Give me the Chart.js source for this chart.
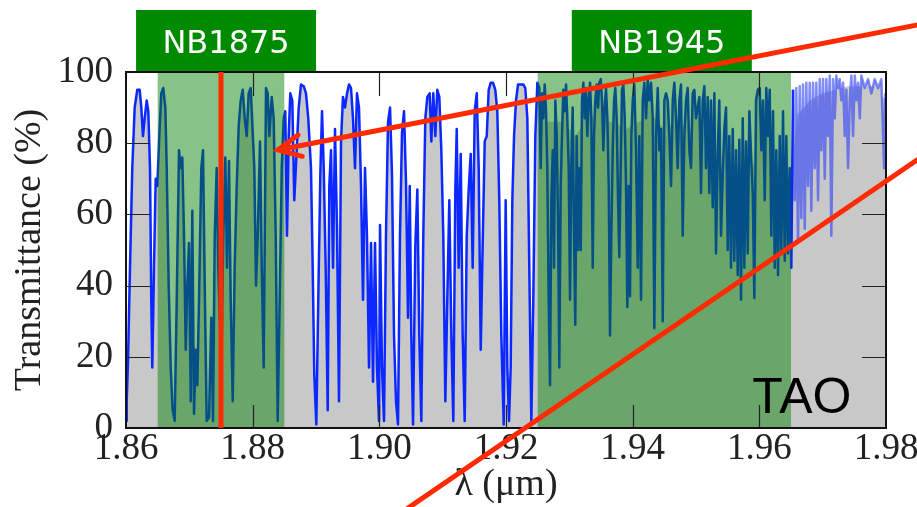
<!DOCTYPE html>
<html>
<head>
<meta charset="utf-8">
<title>TAO transmittance</title>
<script src="https://cdn.jsdelivr.net/npm/chart.js@4.4.1/dist/chart.umd.min.js"></script>
<style>
    html, body { margin: 0; padding: 0; background: #fff; }
    #spectrumChart { display: block; }
</style>
</head>
<body>
<canvas id="spectrumChart" width="917" height="507"></canvas>
<script>
// Atmospheric transmittance at TAO, 1.86 - 1.98 um, with the two narrow-band filters

// wavelength (um)
const wavelengths = [
    1.86000, 1.86011, 1.86032, 1.86063, 1.86099, 1.86137, 1.86178, 1.86216, 1.86242, 1.86268,
    1.86295, 1.86327, 1.86352, 1.86379, 1.86399, 1.86415, 1.86442, 1.86469, 1.86494, 1.86526,
    1.86557, 1.86589, 1.86621, 1.86643, 1.86674, 1.86706, 1.86737, 1.86769, 1.86801, 1.86837,
    1.86864, 1.86889, 1.86916, 1.86943, 1.86968, 1.86995, 1.87022, 1.87047, 1.87074, 1.87101,
    1.87126, 1.87153, 1.87189, 1.87216, 1.87243, 1.87274, 1.87311, 1.87347, 1.87374, 1.87401,
    1.87432, 1.87457, 1.87505, 1.87536, 1.87568, 1.87595, 1.87626, 1.87653, 1.87685, 1.87716,
    1.87748, 1.87780, 1.87811, 1.87843, 1.87874, 1.87906, 1.87937, 1.87969, 1.88026, 1.88053,
    1.88080, 1.88116, 1.88143, 1.88174, 1.88211, 1.88237, 1.88263, 1.88301, 1.88332, 1.88364,
    1.88395, 1.88427, 1.88459, 1.88490, 1.88515, 1.88542, 1.88569, 1.88594, 1.88626, 1.88657,
    1.88695, 1.88727, 1.88763, 1.88806, 1.88842, 1.88878, 1.88921, 1.88948, 1.88973, 1.89005,
    1.89036, 1.89068, 1.89095, 1.89122, 1.89153, 1.89185, 1.89210, 1.89237, 1.89269, 1.89300,
    1.89332, 1.89363, 1.89395, 1.89426, 1.89458, 1.89490, 1.89521, 1.89553, 1.89584, 1.89616,
    1.89647, 1.89679, 1.89711, 1.89742, 1.89774, 1.89805, 1.89837, 1.89869, 1.89900, 1.89932,
    1.89963, 1.89995, 1.90011, 1.90042, 1.90074, 1.90105, 1.90137, 1.90169, 1.90200, 1.90232,
    1.90263, 1.90295, 1.90326, 1.90358, 1.90390, 1.90421, 1.90453, 1.90480, 1.90505, 1.90532,
    1.90568, 1.90600, 1.90631, 1.90663, 1.90694, 1.90726, 1.90758, 1.90795, 1.90821, 1.90852,
    1.90884, 1.90915, 1.90947, 1.90979, 1.91010, 1.91042, 1.91073, 1.91105, 1.91137, 1.91168,
    1.91200, 1.91222, 1.91253, 1.91285, 1.91316, 1.91348, 1.91380, 1.91411, 1.91443, 1.91474,
    1.91506, 1.91538, 1.91569, 1.91601, 1.91632, 1.91664, 1.91696, 1.91727, 1.91759, 1.91795,
    1.91831, 1.91863, 1.91894, 1.91926, 1.91964, 1.91995, 1.92021, 1.92048, 1.92074, 1.92100,
    1.92127, 1.92158, 1.92190, 1.92232, 1.92273, 1.92305, 1.92337, 1.92368, 1.92400, 1.92431,
    1.92463, 1.92495, 1.92526, 1.92548, 1.92569, 1.92589, 1.92611, 1.92632, 1.92652, 1.92674,
    1.92695, 1.92716, 1.92738, 1.92758, 1.92779, 1.92801, 1.92821, 1.92842, 1.92864, 1.92884,
    1.92905, 1.92927, 1.92948, 1.92968, 1.92990, 1.93011, 1.93031, 1.93053, 1.93074, 1.93094,
    1.93116, 1.93137, 1.93158, 1.93180, 1.93200, 1.93221, 1.93243, 1.93263, 1.93284, 1.93306,
    1.93327, 1.93347, 1.93369, 1.93390, 1.93410, 1.93432, 1.93453, 1.93473, 1.93496, 1.93516,
    1.93537, 1.93559, 1.93579, 1.93600, 1.93622, 1.93642, 1.93663, 1.93685, 1.93706, 1.93726,
    1.93748, 1.93769, 1.93789, 1.93811, 1.93832, 1.93853, 1.93875, 1.93895, 1.93916, 1.93938,
    1.93958, 1.93979, 1.94001, 1.94026, 1.94053, 1.94080, 1.94105, 1.94132, 1.94159, 1.94184,
    1.94211, 1.94238, 1.94263, 1.94290, 1.94317, 1.94342, 1.94369, 1.94396, 1.94421, 1.94448,
    1.94475, 1.94500, 1.94527, 1.94554, 1.94579, 1.94606, 1.94633, 1.94658, 1.94685, 1.94711,
    1.94737, 1.94763, 1.94790, 1.94816, 1.94842, 1.94869, 1.94895, 1.94921, 1.94948, 1.94974,
    1.95000, 1.95027, 1.95053, 1.95079, 1.95106, 1.95132, 1.95158, 1.95185, 1.95210, 1.95237,
    1.95264, 1.95290, 1.95316, 1.95343, 1.95368, 1.95395, 1.95422, 1.95447, 1.95474, 1.95501,
    1.95526, 1.95553, 1.95580, 1.95605, 1.95632, 1.95659, 1.95684, 1.95711, 1.95738, 1.95763,
    1.95790, 1.95817, 1.95842, 1.95869, 1.95896, 1.95921, 1.95948, 1.95975, 1.96006, 1.96032,
    1.96058, 1.96085, 1.96110, 1.96137, 1.96164, 1.96189, 1.96216, 1.96243, 1.96268, 1.96295,
    1.96322, 1.96347, 1.96374, 1.96401, 1.96426, 1.96453, 1.96480, 1.96505, 1.96532, 1.96559,
    1.96584, 1.96611, 1.96638, 1.96663, 1.96690, 1.96717, 1.96742, 1.96769, 1.96796, 1.96821,
    1.96848, 1.96875, 1.96900, 1.96927, 1.96954, 1.96979, 1.97006, 1.97033, 1.97058, 1.97085,
    1.97112, 1.97137, 1.97164, 1.97191, 1.97216, 1.97243, 1.97270, 1.97295, 1.97322, 1.97349,
    1.97374, 1.97401, 1.97428, 1.97453, 1.97480, 1.97507, 1.97532, 1.97559, 1.97586, 1.97611,
    1.97664, 1.97717, 1.97769, 1.97822, 1.97875, 1.97927, 1.97970, 1.97990
];

// transmittance (%) at each wavelength above
const transmittance = [
    2, 7.5, 19, 45, 73, 90, 95, 95, 90, 82,
    87, 92, 89, 73, 36, 17, 45, 70, 68, 82,
    94, 95.5, 90, 73, 40, 17, 5, 2, 36, 78,
    73, 76, 54, 22, 40, 52, 7.5, 61, 4, 22,
    12, 36, 73, 78, 40, 2, 3, 31, 2, 54,
    73, 45, 17, 54, 76, 45, 75, 36, 7.5, 45,
    68, 85, 92, 95, 87, 82, 94, 95.5, 73, 40,
    54, 80.5, 45, 17, 95.5, 94, 82, 93, 87, 54,
    2, 36, 73, 87, 89, 54, 82, 94, 92, 64,
    78, 90, 96.5, 96, 94, 87, 73, 45, 15, 1,
    36, 71, 89, 73, 45, 5, 68, 78, 45, 84,
    56, 7.5, 80.5, 93, 90, 94, 96.5, 95.5, 87, 73,
    94, 90, 68, 36, 73, 54, 17, 52, 13, 52,
    17, 2, 57, 17, 2, 54, 86, 90, 71, 26,
    7.5, 1, 54, 83, 89, 69, 31, 68, 26, 1,
    51, 67, 26, 2, 54, 87, 93, 94, 80.5, 94,
    82, 95, 93, 78, 54, 7.5, 36, 64, 26, 2,
    67, 84, 45, 77, 26, 2, 54, 67, 77, 45,
    89, 94, 73, 22, 52, 80.5, 82, 95, 97, 97,
    95, 89, 64, 26, 1, 64, 17, 2, 17, 64,
    82, 92, 96.5, 96.5, 96.5, 95.5, 87, 45, 2, 36,
    82, 97, 95.5, 73, 94, 87, 96.5, 89, 73, 36,
    12, 64, 78, 45, 92, 82, 59, 17, 68, 82,
    95, 89, 96.5, 87, 73, 36, 73, 90, 54, 29,
    82, 50, 73, 50, 92, 97, 87, 95.5, 82, 92,
    97, 87, 45, 82, 92, 96.5, 90, 97, 98, 92,
    78, 90, 95.5, 87, 68, 26, 54, 78, 92, 95.5,
    87, 64, 48, 73, 95, 96.5, 87, 68, 34, 68,
    37, 82, 92, 96.5, 78, 45, 82, 36, 92, 97,
    87, 98, 92, 97, 87, 28, 82, 95.5, 78, 84,
    30, 92, 94, 92, 82, 68, 92, 97, 87, 73,
    92, 96.5, 54, 82, 92, 95.5, 78, 73, 94, 95,
    87, 90, 93, 66, 92, 96, 73, 93, 66, 92,
    62, 94, 49, 77, 92, 54, 71, 84, 90, 50,
    82, 45, 84, 47, 78, 43, 81, 36, 87, 45,
    80.5, 49, 89, 77, 66, 36.5, 92, 95, 95.5, 78,
    92, 64, 95.5, 82, 95, 54, 89, 45, 78, 43,
    82, 49, 89, 47, 82, 49, 73, 45, 95, 64,
    95.5, 52, 96, 59, 96.5, 56, 97, 68, 97, 61,
    97, 73, 97, 64, 98, 78, 98, 70, 98, 82,
    99, 54, 98, 87, 99, 95.5, 98, 92, 97, 82,
    95, 73, 92, 99, 82, 99, 92, 97, 87, 99,
    95.5, 98, 94, 98, 95.5, 98, 73, 94
];

// grey low-resolution fill under the long-wavelength part
const envelopeWavelengths = [1.9249, 1.9265, 1.9290, 1.9310, 1.9330, 1.9350, 1.9370, 1.9390, 1.9410, 1.9430,
    1.9450, 1.9470, 1.9490, 1.9510, 1.9530, 1.9545, 1.9560, 1.9575, 1.9590, 1.9605,
    1.9620, 1.9635, 1.9650, 1.9660, 1.9680, 1.9700, 1.9720, 1.9740, 1.9760, 1.9780, 1.9800];
const envelopeTransmittance = [88, 86, 86, 82, 88, 86, 86, 84, 86, 88,
    84, 86, 84, 82, 76, 72, 70, 70, 74, 80,
    76, 72, 70, 88, 92, 94, 95, 96, 96, 96, 92];

// narrow-band filters
const bandNames = ['NB1875', 'NB1945'];
const bandStarts = [1.865, 1.925];
const bandEnds = [1.885, 1.965];
const bandLabelCenters = [1.8758, 1.9446];

// axis ticks
const xTickValues = [1.86, 1.88, 1.90, 1.92, 1.94, 1.96, 1.98];
const yTickValues = [0, 20, 40, 60, 80, 100];

// red annotations, in data units
const markerWavelength = 1.875;
const arrowTail = [1.995, 116.7];
const arrowTip = [1.8840, 78.1];
const zoomLine = [[1.9000, -28.0], [1.9950, 87.6]];
const siteLabel = 'TAO';
const siteLabelAt = [1.9589, 4.2];

const BLUE = '#0a28ff';
const RED = '#ff2a00';
const GREY = '#c8c8c8';
const SERIF = '"Liberation Serif", "DejaVu Serif", serif';

// Draws filter bands, ticks, frame and the red overlays
const overlayPlugin = {
    id: 'overlay',
    afterDatasetsDraw(chart) {
        const { ctx, chartArea: a, scales: { x } } = chart;
        ctx.save();
        ctx.fillStyle = 'rgba(0, 128, 0, 0.47)';
        bandStarts.forEach(function(start, i) {
            const x0 = x.getPixelForValue(start);
            const x1 = x.getPixelForValue(bandEnds[i]);
            ctx.fillRect(x0, a.top, x1 - x0, a.bottom - a.top);
        });
        ctx.restore();
    },
    afterDraw(chart) {
        const { ctx, chartArea: a, scales: { x, y } } = chart;
        ctx.save();

        // inward ticks on all four sides
        ctx.strokeStyle = '#222';
        ctx.lineWidth = 1.2;
        ctx.beginPath();
        xTickValues.slice(1, -1).forEach(function(v) {
            const px = Math.round(x.getPixelForValue(v)) + 0.5;
            ctx.moveTo(px, a.top); ctx.lineTo(px, a.top + 24);
            ctx.moveTo(px, a.bottom); ctx.lineTo(px, a.bottom - 23);
        });
        yTickValues.slice(1, -1).forEach(function(v) {
            const py = Math.round(y.getPixelForValue(v)) + 0.5;
            ctx.moveTo(a.left, py); ctx.lineTo(a.left + 24, py);
            ctx.moveTo(a.right, py); ctx.lineTo(a.right - 24, py);
        });
        ctx.stroke();

        // frame
        ctx.strokeStyle = '#111';
        ctx.lineWidth = 2;
        ctx.strokeRect(a.left, a.top, a.right - a.left, a.bottom - a.top);

        // red marker at 1.875 um
        const mx = x.getPixelForValue(markerWavelength);
        ctx.strokeStyle = RED;
        ctx.lineWidth = 5;
        ctx.beginPath();
        ctx.moveTo(mx, a.top);
        ctx.lineTo(mx, a.bottom);
        ctx.stroke();

        // site label
        ctx.fillStyle = '#000';
        ctx.font = '50px "Liberation Sans", Arial, sans-serif';
        ctx.textAlign = 'left';
        ctx.textBaseline = 'alphabetic';
        ctx.fillText(siteLabel, x.getPixelForValue(siteLabelAt[0]), y.getPixelForValue(siteLabelAt[1]));

        // filter name boxes above the plot
        ctx.font = '32px "DejaVu Sans", Verdana, sans-serif';
        ctx.textAlign = 'center';
        bandNames.forEach(function(name, i) {
            const cx = x.getPixelForValue(bandLabelCenters[i]);
            ctx.fillStyle = '#008a00';
            ctx.fillRect(cx - 90, 10, 180, 61);
            ctx.fillStyle = '#fff';
            ctx.fillText(name, cx, 53);
        });

        // zoom line
        ctx.strokeStyle = RED;
        ctx.lineWidth = 5;
        ctx.lineCap = 'round';
        ctx.beginPath();
        ctx.moveTo(x.getPixelForValue(zoomLine[0][0]), y.getPixelForValue(zoomLine[0][1]));
        ctx.lineTo(x.getPixelForValue(zoomLine[1][0]), y.getPixelForValue(zoomLine[1][1]));
        ctx.stroke();

        // arrow
        const tx = x.getPixelForValue(arrowTip[0]), ty = y.getPixelForValue(arrowTip[1]);
        const sx = x.getPixelForValue(arrowTail[0]), sy = y.getPixelForValue(arrowTail[1]);
        const ang = Math.atan2(sy - ty, sx - tx);
        ctx.beginPath();
        ctx.moveTo(sx, sy);
        ctx.lineTo(tx, ty);
        ctx.moveTo(tx + 25 * Math.cos(ang - 0.45), ty + 25 * Math.sin(ang - 0.45));
        ctx.lineTo(tx, ty);
        ctx.lineTo(tx + 25 * Math.cos(ang + 0.45), ty + 25 * Math.sin(ang + 0.45));
        ctx.stroke();

        ctx.restore();
    }
};

function initSpectrumChart() {
    const ctx = document.getElementById('spectrumChart');
    if (!ctx) return;

    const spectrum = wavelengths.map(function(w, i) { return { x: w, y: transmittance[i] }; });
    const envelope = envelopeWavelengths.map(function(w, i) { return { x: w, y: envelopeTransmittance[i] }; });

    new Chart(ctx, {
        type: 'line',
        data: {
            datasets: [
                {
                    label: 'Transmittance',
                    data: spectrum,
                    borderColor: BLUE,
                    borderWidth: 2.5,
                    borderJoinStyle: 'round',
                    backgroundColor: GREY,
                    fill: 'origin',
                    pointRadius: 0,
                    tension: 0,
                    segment: {
                        borderColor: function(c) {
                            return c.p0.parsed.x > 1.9652 ? 'rgba(30, 50, 255, 0.55)' : BLUE;
                        }
                    }
                },
                {
                    label: 'Envelope',
                    data: envelope,
                    borderColor: 'rgba(0,0,0,0)',
                    borderWidth: 0,
                    backgroundColor: GREY,
                    fill: 'origin',
                    pointRadius: 0,
                    tension: 0
                }
            ]
        },
        options: {
            responsive: false,
            animation: false,
            layout: { padding: { top: 72, right: 31, left: 0, bottom: 0 } },
            plugins: {
                legend: { display: false },
                tooltip: { enabled: false }
            },
            scales: {
                x: {
                    type: 'linear',
                    min: 1.86,
                    max: 1.98,
                    afterBuildTicks: function(s) { s.ticks = xTickValues.map(function(v) { return { value: v }; }); },
                    afterFit: function(s) { s.height = 79; s.paddingLeft = 0; s.paddingRight = 0; },
                    grid: { display: false, drawTicks: false },
                    border: { display: false },
                    ticks: {
                        color: '#222',
                        padding: 3,
                        maxRotation: 0,
                        autoSkip: false,
                        font: { family: SERIF, size: 37, lineHeight: 1 },
                        callback: function(v) { return Number(v).toFixed(2); }
                    },
                    title: {
                        display: true,
                        text: 'λ (μm)',
                        color: '#222',
                        padding: 3,
                        font: { family: SERIF, size: 38, lineHeight: 1 }
                    }
                },
                y: {
                    min: 0,
                    max: 100,
                    afterBuildTicks: function(s) { s.ticks = yTickValues.map(function(v) { return { value: v }; }); },
                    afterFit: function(s) { s.width = 126; s.paddingTop = 0; s.paddingBottom = 0; },
                    grid: { display: false, drawTicks: false },
                    border: { display: false },
                    ticks: {
                        color: '#222',
                        padding: 13,
                        autoSkip: false,
                        font: { family: SERIF, size: 37, lineHeight: 1 }
                    },
                    title: {
                        display: true,
                        text: 'Transmittance (%)',
                        color: '#222',
                        padding: 11,
                        font: { family: SERIF, size: 38, lineHeight: 1 }
                    }
                }
            }
        },
        plugins: [overlayPlugin]
    });
}

document.addEventListener('DOMContentLoaded', function() {
    const fonts = ['37px "Liberation Serif"', '32px "DejaVu Sans"', '50px "Liberation Sans"'];
    Promise.all(fonts.map(function(f) { return document.fonts.load(f); }))
        .catch(function() {})
        .then(initSpectrumChart);
});
</script>
</body>
</html>
